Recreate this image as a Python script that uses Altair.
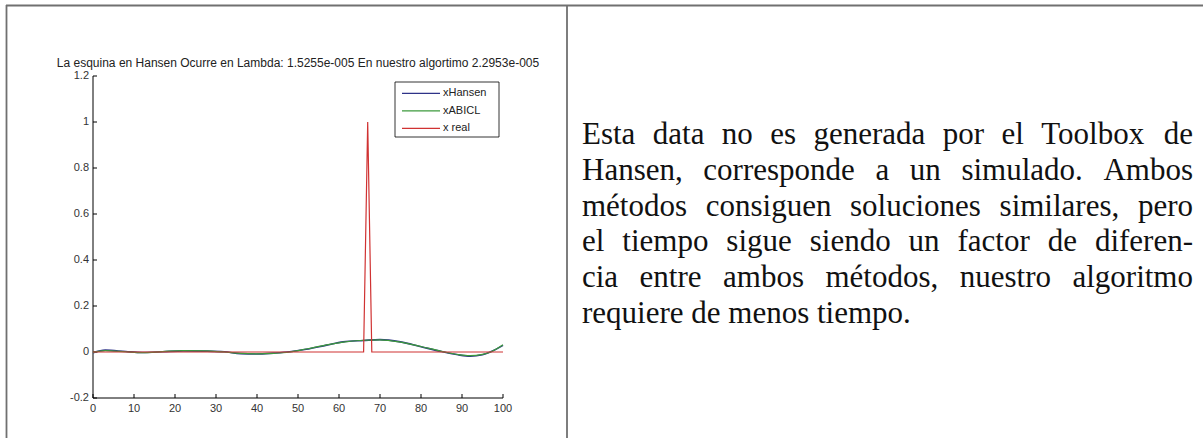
import altair as alt
import pandas as pd

# ---------------- data ----------------
x_curve = [0, 3, 8, 12, 17, 22, 27, 32, 36, 40, 44, 48, 52, 57, 61, 66, 70, 75, 80, 85, 89, 92, 95, 97, 100]
y_hansen = [-0.003, 0.008, 0.002, -0.002, 0.001, 0.005, 0.004, 0.001, -0.007, -0.009, -0.005, 0.001,
            0.012, 0.030, 0.044, 0.050, 0.054, 0.044, 0.023, 0.002, -0.012, -0.018, -0.012, 0.001, 0.029]
y_abicl = [-0.002, 0.006, 0.001, -0.003, 0.002, 0.006, 0.005, 0.000, -0.006, -0.008, -0.006, 0.000,
           0.013, 0.031, 0.043, 0.051, 0.053, 0.043, 0.024, 0.003, -0.011, -0.016, -0.010, 0.000, 0.031]
x_real = [0, 66, 67, 68, 100]
y_real = [0, 0, 1, 0, 0]

series = ["xHansen", "xABICL", "x real"]
colors = ["#2e3388", "#3c9a3c", "#d03232"]

x_ticks = [0, 10, 20, 30, 40, 50, 60, 70, 80, 90, 100]
x_tick_labels = ["0", "10", "20", "30", "40", "50", "60", "70", "80", "90", "100"]
y_ticks = [-0.2, 0, 0.2, 0.4, 0.6, 0.8, 1, 1.2]
y_tick_labels = ["-0.2", "0", "0.2", "0.4", "0.6", "0.8", "1", "1.2"]

title_text = "La esquina en Hansen Ocurre en Lambda: 1.5255e-005 En nuestro algortimo 2.2953e-005"
para_lines = [
    "Esta data no es generada por el Toolbox de",
    "Hansen, corresponde a un simulado. Ambos",
    "métodos consiguen soluciones similares, pero",
    "el tiempo sigue siendo un factor de diferen-",
    "cia entre ambos métodos, nuestro algoritmo",
    "requiere de menos tiempo.",
]

# ---------------- layout ----------------
OX, OY = 93, 76            # plot-area origin in page pixels
W, H = 410, 322            # plot area
PAGE_W, PAGE_H = 1203, 438
def px(v): return v - OX
def py(v): return v - OY

XS = alt.Scale(domain=[0, 100], nice=False, zero=False)
YS = alt.Scale(domain=[-0.2, 1.2], nice=False, zero=False)
AX = "Liberation Sans"
dummy = pd.DataFrame({"d": [0]})
layers = []

# table borders
BORDER = "#707070"
def rule(x1, y1, x2=None, y2=None, color=BORDER, sw=1.8):
    enc = dict(x=alt.value(x1), y=alt.value(y1))
    if x2 is not None:
        enc["x2"] = alt.value(x2)
    if y2 is not None:
        enc["y2"] = alt.value(y2)
    return alt.Chart(dummy).mark_rule(color=color, strokeWidth=sw).encode(**enc)

layers.append(rule(px(6), py(5.5), x2=px(PAGE_W), y2=py(5.5)))
layers.append(rule(px(6.5), py(5), y2=py(PAGE_H)))
layers.append(rule(px(567), py(5), y2=py(PAGE_H)))

# axes domain lines
layers.append(rule(0, 0, y2=H, color="black", sw=1))
layers.append(rule(0, H, x2=W, y2=H, color="black", sw=1))

# ticks (inward) and labels
ydf = pd.DataFrame({"y": y_ticks, "lab": y_tick_labels})
xdf = pd.DataFrame({"x": x_ticks, "lab": x_tick_labels})
layers.append(alt.Chart(ydf).mark_rule(color="black", strokeWidth=1).encode(
    y=alt.Y("y:Q", scale=YS, axis=None), x=alt.value(0), x2=alt.value(4)))
layers.append(alt.Chart(ydf).mark_text(align="right", baseline="middle", font=AX, fontSize=11,
                                       color="#333333").encode(
    y=alt.Y("y:Q", scale=YS, axis=None), x=alt.value(-4), text="lab:N"))
layers.append(alt.Chart(xdf).mark_rule(color="black", strokeWidth=1).encode(
    x=alt.X("x:Q", scale=XS, axis=None), y=alt.value(H), y2=alt.value(H - 4)))
layers.append(alt.Chart(xdf).mark_text(align="center", baseline="top", font=AX, fontSize=11,
                                       color="#333333").encode(
    x=alt.X("x:Q", scale=XS, axis=None), y=alt.value(H + 5), text="lab:N"))

# title
layers.append(alt.Chart(pd.DataFrame({"t": [title_text]})).mark_text(
    align="center", baseline="middle", font=AX, fontSize=12, color="#222222").encode(
    x=alt.value(W / 2), y=alt.value(py(63)), text="t:N"))

# data lines
hdf = pd.DataFrame({"x": x_curve, "y": y_hansen})
adf = pd.DataFrame({"x": x_curve, "y": y_abicl})
rdf = pd.DataFrame({"x": x_real, "y": y_real})
for df, col, sw, interp in [(hdf, colors[0], 1.6, "monotone"),
                            (adf, colors[1], 1.2, "monotone"),
                            (rdf, colors[2], 1.2, "linear")]:
    layers.append(alt.Chart(df).mark_line(color=col, strokeWidth=sw, interpolate=interp).encode(
        x=alt.X("x:Q", scale=XS, axis=None), y=alt.Y("y:Q", scale=YS, axis=None), order="x:Q"))

# legend box
layers.append(alt.Chart(dummy).mark_rect(fill="white", stroke="black", strokeWidth=0.8).encode(
    x=alt.value(px(395)), x2=alt.value(px(499)), y=alt.value(py(82)), y2=alt.value(py(137))))
for i, (name, col) in enumerate(zip(series, colors)):
    ly = py(93.3 + 17.5 * i)
    layers.append(rule(px(402), ly, x2=px(440), y2=ly, color=col, sw=1.2))
    layers.append(alt.Chart(pd.DataFrame({"t": [name]})).mark_text(
        align="left", baseline="middle", font=AX, fontSize=11, color="#222222").encode(
        x=alt.value(px(443)), y=alt.value(ly), text="t:N"))

# paragraph (justified, Times-metric word placement)
TIMES = {' ': 250, 'a': 444, 'b': 500, 'c': 444, 'd': 500, 'e': 444, 'f': 333, 'g': 500, 'h': 500,
         'i': 278, 'j': 278, 'k': 500, 'l': 278, 'm': 778, 'n': 500, 'o': 500, 'p': 500, 'q': 500,
         'r': 333, 's': 389, 't': 278, 'u': 500, 'v': 500, 'w': 722, 'x': 500, 'y': 500, 'z': 444,
         'A': 722, 'E': 611, 'H': 722, 'T': 611, ',': 250, '.': 250, '-': 333, 'é': 444}
FS = 31
def tw(s):
    return sum(TIMES.get(c, 500) for c in s) * FS / 1000.0

X0, X1 = px(582), px(1193)
base0, lead = 144, 35.8
words = []
for li, line in enumerate(para_lines):
    yb = py(base0 + lead * li)
    ws = line.split(" ")
    if li == len(para_lines) - 1:
        words.append({"w": line, "px": X0, "py": yb, "al": "left"})
        continue
    total = sum(tw(w) for w in ws)
    gap = (X1 - X0 - total) / (len(ws) - 1)
    cur = X0
    for wi, w in enumerate(ws):
        if wi == len(ws) - 1:
            words.append({"w": w, "px": X1, "py": yb, "al": "right"})
        else:
            words.append({"w": w, "px": cur, "py": yb, "al": "left"})
        cur += tw(w) + gap
wdf = pd.DataFrame(words)
for al in ["left", "right"]:
    sub = wdf[wdf["al"] == al]
    layers.append(alt.Chart(sub).mark_text(
        align=al, baseline="alphabetic", font="Liberation Serif", fontSize=FS, color="#111111").encode(
        x=alt.X("px:Q", scale=None, axis=None), y=alt.Y("py:Q", scale=None, axis=None), text="w:N"))

chart = alt.layer(*layers).properties(
    width=W, height=H,
    padding={"left": OX, "top": OY, "right": PAGE_W - OX - W, "bottom": PAGE_H - OY - H},
    autosize=alt.AutoSizeParams(type="none"),
    background="white",
).resolve_scale(x="independent", y="independent").configure_view(stroke=None)

chart.save("out.html", embed_options={"renderer": "svg", "actions": False})
